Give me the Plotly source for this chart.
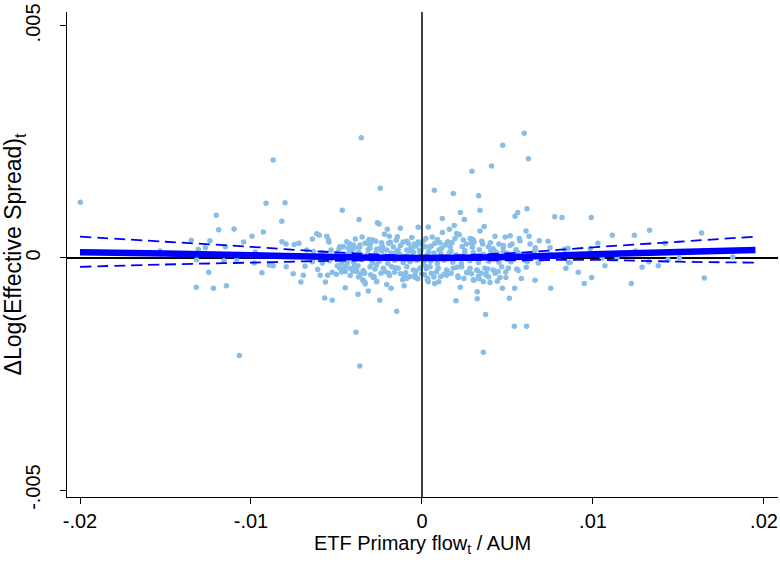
import plotly.graph_objects as go

# ---- scatter data: ETF primary flow / AUM (x) vs ΔLog(Effective Spread) (y)
flow = [
    -19.98e-3, -9.12e-3, -12.03e-3, -11.89e-3, -10.99e-3, -9.28e-3, -9.94e-3, -10.43e-3, -13.49e-3, -12.40e-3,
    -13.08e-3, -12.67e-3, -11.50e-3, -15.32e-3, -9.75e-3, -13.18e-3, -11.58e-3, -10.84e-3, -9.81e-3, -12.47e-3,
    -9.36e-3, -8.93e-3, -13.2e-3, -12.2e-3, -11.44e-3, -10.68e-3,
    -3.55e-3, -8.70e-3, -8.01e-3, -4.66e-3, -8.20e-3, -3.68e-3, -8.19e-3, -7.95e-3, -7.47e-3, -7.19e-3,
    -6.41e-3, -6.16e-3, -6.00e-3, -5.57e-3, -5.48e-3, -5.44e-3, -6.74e-3, -6.36e-3, -5.83e-3, -5.32e-3,
    -4.80e-3, -8.79e-3, -8.70e-3, -7.94e-3, -7.53e-3, -6.94e-3, -7.08e-3, -6.84e-3, -6.10e-3, -5.95e-3,
    -5.52e-3, -5.65e-3, -6.41e-3, -5.83e-3, -5.25e-3, -5.01e-3, -4.49e-3, -4.49e-3, -5.69e-3, -5.25e-3,
    -3.74e-3, -3.86e-3, -3.64e-3, -4.05e-3, -3.84e-3, -3.43e-3, -3.32e-3, -3.74e-3, -3.14e-3, -4.80e-3,
    -4.95e-3, -4.37e-3, -4.11e-3, -3.92e-3, -3.27e-3, -3.10e-3,
    -2.61e-3, -2.51e-3, -2.03e-3, -1.27e-3, -0.22e-3, -2.44e-3, -1.48e-3, -2.47e-3, -1.81e-3, -1.04e-3,
    -2.06e-3, -2.65e-3,
    5.98e-3, 4.72e-3, 6.22e-3, 4.07e-3, 2.92e-3, 3.31e-3, 3.39e-3, 6.14e-3, 5.60e-3, 5.44e-3,
    7.76e-3, 8.19e-3, 3.64e-3, 3.39e-3, 4.27e-3, 4.87e-3, 5.16e-3, 6.08e-3, 6.26e-3, 5.69e-3,
    5.73e-3, 6.86e-3, 7.37e-3, 5.26e-3, 5.15e-3, 4.75e-3, 6.32e-3, 6.63e-3, 7.49e-3, 8.34e-3,
    8.54e-3, 4.02e-3, 4.37e-3, 8.42e-3, 8.58e-3, 9.14e-3, 7.53e-3, 6.61e-3, 5.81e-3, 5.42e-3,
    5.11e-3, 4.70e-3, 4.91e-3, 5.54e-3, 5.63e-3, 3.98e-3, 3.23e-3, 3.23e-3, 3.04e-3, 3.35e-3,
    3.74e-3, 3.72e-3, 5.40e-3, 6.12e-3, 3.59e-3, 6.16e-3, 6.80e-3, 2.92e-3, 3.04e-3,
    0.72e-3, 1.83e-3, 9.90e-3, 2.24e-3, 2.47e-3, 1.19e-3, 0.37e-3, 1.60e-3, 1.89e-3, 11.13e-3,
    12.42e-3, 13.31e-3, 14.21e-3, 16.35e-3, 10.29e-3, 9.84e-3, 9.49e-3, 9.92e-3, 10.70e-3, 12.24e-3,
    12.87e-3, 13.82e-3, 13.27e-3, 14.39e-3, 15.05e-3, 16.51e-3, 18.17e-3, 11.4e-3, 12.5e-3, 1.99e-3,
    2.24e-3, 0.74e-3, 0.98e-3, 0.33e-3, 0.37e-3, 10.54e-3, 8.65e-3,
    -2.20e-3, -1.91e-3, -1.44e-3, -2.88e-3, -3.00e-3, -3.33e-3, -3.63e-3, -2.36e-3, -2.30e-3, -1.68e-3,
    -1.11e-3, -0.89e-3, -0.80e-3, -0.22e-3, -0.35e-3, 0.18e-3, -4.02e-3, -4.31e-3, -4.60e-3, -3.04e-3,
    -2.65e-3, -2.06e-3, -1.39e-3, -0.89e-3, -0.60e-3, -0.06e-3, -4.70e-3, -4.50e-3, -4.21e-3, -3.82e-3,
    -3.43e-3, -3.04e-3, -2.65e-3, -2.26e-3, -1.77e-3, -1.39e-3, -0.89e-3, -0.51e-3, -0.12e-3, 0.27e-3,
    -3.47e-3, -3.33e-3, -2.85e-3, -2.65e-3, -1.13e-3, -0.89e-3, 0.31e-3, -0.41e-3, -0.02e-3,
    1.19e-3, 2.03e-3, 2.18e-3, 2.42e-3, 1.93e-3, 0.23e-3, 2.81e-3, 3.00e-3, 2.90e-3, 0.76e-3,
    1.05e-3, 1.35e-3, 0.47e-3, 1.64e-3, 3.88e-3, 4.37e-3, 4.75e-3, 4.99e-3,
    0.08e-3, 0.47e-3, 0.95e-3, 1.44e-3, 1.83e-3, 2.32e-3, 2.81e-3, 3.20e-3, 3.68e-3, 4.17e-3,
    4.66e-3, 5.05e-3, 2.12e-3, 3.00e-3, 3.29e-3, 3.59e-3, 4.27e-3, 4.56e-3, 2.61e-3, 1.44e-3,
    -5.9e-3, -5.4e-3, -5.0e-3, -4.6e-3, -4.3e-3, -4.0e-3, -3.7e-3, -3.5e-3, -3.2e-3, -2.9e-3,
    -2.7e-3, -2.5e-3, -2.2e-3, -2.0e-3, -1.8e-3, -1.6e-3, -1.3e-3, -1.1e-3, -0.9e-3, -0.7e-3,
    -0.5e-3, -0.3e-3, -0.1e-3, 0.1e-3, 0.3e-3, 0.5e-3, 0.7e-3, 0.9e-3, 1.1e-3, 1.3e-3,
    1.6e-3, 1.8e-3, 2.0e-3, 2.3e-3, 2.5e-3, 2.8e-3, 3.0e-3, 3.3e-3, 3.6e-3, 3.9e-3,
    4.2e-3, 4.5e-3, 4.8e-3, 5.2e-3, 5.6e-3, 6.0e-3, 6.5e-3, 7.0e-3, 7.5e-3, 8.0e-3,
    -4.4e-3, -3.9e-3, -3.5e-3, -2.7e-3, -1.95e-3, -1.5e-3, -0.6e-3, -0.45e-3, 0.05e-3, 0.6e-3,
    0.9e-3, 1.5e-3, 2.6e-3, 3.5e-3, 4.0e-3, 4.5e-3,
    -4.2e-3, -3.7e-3, -3.0e-3, -2.4e-3, -1.9e-3, -1.6e-3, -1.25e-3, -0.7e-3, -0.25e-3, 0.55e-3,
    1.1e-3, 1.7e-3, 2.45e-3, 3.45e-3, 3.9e-3, 4.4e-3,
    -4.85e-3, -4.55e-3, -4.25e-3, -3.95e-3, -3.65e-3, -3.35e-3, -3.05e-3, -2.75e-3, -2.45e-3, -2.15e-3,
    -1.85e-3, -1.55e-3, -1.25e-3, -0.95e-3, -0.65e-3, -0.35e-3, -0.05e-3, 0.25e-3, 0.55e-3, 0.85e-3,
    1.15e-3, 1.45e-3, 1.75e-3, 2.05e-3, 2.35e-3, 2.65e-3, 2.95e-3, 3.25e-3, 3.55e-3, 3.85e-3,
    4.15e-3, 4.45e-3, 4.75e-3,
    -4.7e-3, -4.1e-3, -3.6e-3, -3.15e-3, -2.8e-3, -2.35e-3, -1.95e-3, -1.5e-3, -1.05e-3, -0.75e-3,
    -0.4e-3, -0.15e-3, 0.15e-3, 0.4e-3, 0.7e-3, 1.0e-3, 1.3e-3, 1.7e-3, 2.1e-3, 2.5e-3,
    2.9e-3, 3.35e-3, 3.75e-3, 4.25e-3, 4.9e-3, 5.5e-3, 6.1e-3, 6.6e-3,
]
dspread = [
    1.20e-3, 1.18e-3, 0.92e-3, 0.61e-3, 0.625e-3, 0.56e-3, 0.47e-3, 0.345e-3, 0.38e-3, 0.37e-3,
    0.19e-3, 0.22e-3, 0.24e-3, 0.15e-3, 0.13e-3, -0.04e-3, -0.06e-3, -0.03e-3, -0.11e-3, -0.31e-3,
    -0.32e-3, -0.15e-3, -0.63e-3, -0.65e-3, -0.60e-3, -2.10e-3,
    2.59e-3, 2.11e-3, 1.19e-3, 1.03e-3, 0.79e-3, 0.83e-3, 0.35e-3, 0.30e-3, 0.29e-3, 0.32e-3,
    0.41e-3, 0.52e-3, 0.49e-3, 0.47e-3, 0.40e-3, 0.345e-3, 0.17e-3, 0.14e-3, 0.12e-3, 0.17e-3,
    0.24e-3, -0.15e-3, -0.17e-3, -0.19e-3, -0.34e-3, -0.37e-3, -0.52e-3, -0.18e-3, -0.25e-3, -0.37e-3,
    -0.37e-3, -0.52e-3, -0.08e-3, -0.11e-3, -0.31e-3, -0.35e-3, -0.29e-3, -0.64e-3, -0.86e-3, -0.91e-3,
    -0.78e-3, -1.60e-3, -2.33e-3, -0.28e-3, -0.29e-3, -0.49e-3, -0.56e-3, -0.17e-3, -0.71e-3, -0.22e-3,
    -0.17e-3, -0.11e-3, 0.24e-3, 0.22e-3, 0.32e-3, 0.40e-3,
    0.76e-3, 0.73e-3, 0.62e-3, 0.64e-3, 0.66e-3, 1.50e-3, -1.15e-3, -0.91e-3, -0.65e-3, -0.60e-3,
    -0.57e-3, -0.50e-3,
    2.69e-3, 2.43e-3, 2.14e-3, 1.98e-3, 1.87e-3, 1.34e-3, 1.03e-3, 1.06e-3, 0.98e-3, 0.90e-3,
    0.89e-3, 0.87e-3, 0.68e-3, 0.58e-3, 0.47e-3, 0.45e-3, 0.48e-3, 0.58e-3, 0.47e-3, 0.42e-3,
    0.37e-3, 0.37e-3, 0.36e-3, 0.30e-3, 0.27e-3, 0.22e-3, 0.30e-3, 0.22e-3, 0.22e-3, 0.19e-3,
    0.21e-3, 0.16e-3, 0.11e-3, -0.22e-3, -0.10e-3, -0.31e-3, -0.65e-3, -0.48e-3, -0.44e-3, -0.65e-3,
    -0.87e-3, -0.65e-3, -0.42e-3, -0.24e-3, -0.27e-3, -0.53e-3, -0.73e-3, -0.88e-3, -0.48e-3, -0.45e-3,
    -0.34e-3, -1.22e-3, -1.47e-3, -1.47e-3, -2.03e-3, -0.08e-3, -0.11e-3, 0.41e-3, 0.34e-3,
    1.46e-3, 1.39e-3, 0.87e-3, 0.98e-3, 0.83e-3, 0.85e-3, 0.67e-3, 0.62e-3, 0.70e-3, 0.49e-3,
    0.49e-3, 0.60e-3, 0.32e-3, 0.54e-3, 0.32e-3, 0.20e-3, -0.55e-3, -0.42e-3, -0.17e-3, -0.55e-3,
    -0.20e-3, -0.17e-3, -0.08e-3, -0.04e-3, 0.0, -0.43e-3, 0.02e-3, 0.0, 0.15e-3, -0.92e-3,
    -0.63e-3, -0.55e-3, -0.51e-3, -0.44e-3, -0.51e-3, 0.0, -0.10e-3,
    0.51e-3, 0.47e-3, 0.46e-3, 0.39e-3, 0.33e-3, 0.32e-3, 0.28e-3, 0.33e-3, 0.24e-3, 0.24e-3,
    0.345e-3, 0.36e-3, 0.32e-3, 0.345e-3, 0.26e-3, 0.24e-3, 0.28e-3, 0.21e-3, 0.24e-3, 0.21e-3,
    0.19e-3, 0.17e-3, 0.17e-3, 0.17e-3, 0.19e-3, 0.17e-3, -0.11e-3, -0.19e-3, -0.22e-3, -0.27e-3,
    -0.27e-3, -0.19e-3, -0.15e-3, -0.22e-3, -0.19e-3, -0.22e-3, -0.19e-3, -0.26e-3, -0.22e-3, -0.19e-3,
    -0.47e-3, -0.53e-3, -0.42e-3, -0.51e-3, -0.47e-3, -0.44e-3, -0.47e-3, -0.37e-3, -0.34e-3,
    0.55e-3, 0.53e-3, 0.50e-3, 0.39e-3, 0.42e-3, 0.42e-3, 0.42e-3, 0.39e-3, 0.32e-3, 0.32e-3,
    0.33e-3, 0.28e-3, 0.24e-3, 0.24e-3, 0.24e-3, 0.10e-3, 0.14e-3, 0.10e-3,
    -0.15e-3, -0.19e-3, -0.22e-3, -0.26e-3, -0.22e-3, -0.19e-3, -0.22e-3, -0.26e-3, -0.22e-3, -0.26e-3,
    -0.19e-3, -0.22e-3, -0.42e-3, -0.47e-3, -0.40e-3, -0.51e-3, -0.33e-3, -0.42e-3, -0.32e-3, -0.37e-3,
    0.08e-3, -0.06e-3, 0.11e-3, -0.05e-3, 0.09e-3, -0.09e-3, 0.12e-3, -0.04e-3, 0.07e-3, -0.11e-3,
    0.10e-3, -0.07e-3, 0.05e-3, -0.12e-3, 0.11e-3, -0.05e-3, 0.08e-3, -0.10e-3, 0.04e-3, -0.08e-3,
    0.12e-3, -0.05e-3, 0.08e-3, -0.10e-3, 0.06e-3, -0.07e-3, 0.11e-3, -0.12e-3, 0.09e-3, -0.05e-3,
    0.12e-3, -0.09e-3, 0.07e-3, -0.12e-3, 0.10e-3, -0.06e-3, 0.12e-3, -0.10e-3, 0.08e-3, -0.07e-3,
    0.13e-3, -0.09e-3, 0.05e-3, -0.08e-3, 0.12e-3, -0.05e-3, 0.10e-3, -0.03e-3, 0.07e-3, 0.02e-3,
    0.35e-3, 0.41e-3, 0.45e-3, 0.36e-3, 0.32e-3, 0.38e-3, 0.44e-3, 0.30e-3, 0.36e-3, 0.45e-3,
    0.40e-3, 0.35e-3, 0.30e-3, 0.36e-3, 0.33e-3, 0.30e-3,
    -0.38e-3, -0.41e-3, -0.36e-3, -0.33e-3, -0.38e-3, -0.31e-3, -0.34e-3, -0.40e-3, -0.45e-3, -0.33e-3,
    -0.40e-3, -0.33e-3, -0.44e-3, -0.33e-3, -0.41e-3, -0.50e-3,
    0.20e-3, -0.27e-3, 0.31e-3, -0.18e-3, 0.23e-3, -0.33e-3, 0.28e-3, -0.24e-3, 0.21e-3, -0.29e-3,
    0.34e-3, -0.21e-3, 0.27e-3, -0.32e-3, 0.22e-3, -0.28e-3, 0.30e-3, -0.23e-3, 0.26e-3, -0.30e-3,
    0.21e-3, -0.27e-3, 0.33e-3, -0.20e-3, 0.25e-3, -0.31e-3, 0.23e-3, -0.27e-3, 0.30e-3, -0.24e-3,
    0.20e-3, -0.29e-3, 0.27e-3,
    -0.30e-3, 0.16e-3, -0.35e-3, 0.18e-3, -0.40e-3, 0.15e-3, -0.33e-3, 0.14e-3, -0.38e-3, 0.15e-3,
    -0.42e-3, 0.16e-3, -0.36e-3, 0.14e-3, -0.41e-3, 0.18e-3, -0.35e-3, 0.15e-3, -0.39e-3, 0.16e-3,
    -0.34e-3, 0.18e-3, -0.37e-3, 0.15e-3, -0.30e-3, 0.18e-3, -0.20e-3, 0.16e-3,
]

# ---- fitted curve with 95% confidence band
fit_x = [-0.0200, -0.0150, -0.0100, -0.0050, 0.0, 0.0050, 0.0100, 0.0150, 0.0195]
fit_y = [0.000125, 0.000095, 0.00006, 0.00002, 0.0, 0.00002, 0.00008, 0.00013, 0.00017]
ci_hi = [0.00046, 0.00035, 0.00024, 0.00012, 0.00005, 0.00010, 0.00023, 0.00035, 0.00046]
ci_lo = [-0.00019, -0.00014, -0.00010, -0.00006, -0.00004, -0.00005, -0.00004, -0.00008, -0.00010]

x_ticks = [-0.02, -0.01, 0, 0.01, 0.02]
x_labels = ["-.02", "-.01", "0", ".01", ".02"]
y_ticks = [-0.005, 0, 0.005]
y_labels = ["-.005", "0", ".005"]

FONT = "Liberation Sans, Arial, Helvetica, sans-serif"

fig = go.Figure()
fig.add_trace(go.Scatter(
    x=flow, y=dspread, mode="markers",
    marker=dict(color="#86bee8", size=5.5, line=dict(width=0)),
    showlegend=False, hoverinfo="skip"))
for band in (ci_hi, ci_lo):
    fig.add_trace(go.Scatter(
        x=fit_x, y=band, mode="lines", line_shape="spline",
        line=dict(color="#0000ff", width=1.8, dash="11px,6px"),
        showlegend=False, hoverinfo="skip"))
fig.add_trace(go.Scatter(
    x=fit_x, y=fit_y, mode="lines", line_shape="spline",
    line=dict(color="#0000ff", width=6.5),
    showlegend=False, hoverinfo="skip"))

fig.add_hline(y=0, line=dict(color="black", width=2), layer="below")
fig.add_vline(x=0, line=dict(color="black", width=1.5), layer="above")

fig.update_layout(
    width=780, height=562,
    margin=dict(l=67, r=2, t=12, b=65),
    paper_bgcolor="white", plot_bgcolor="white",
    font=dict(family=FONT, size=20, color="black"),
    xaxis=dict(
        range=[-0.02076, 0.02082], tickvals=x_ticks, ticktext=x_labels,
        showgrid=False, zeroline=False, showline=True, linecolor="black", linewidth=1.3,
        ticks="outside", ticklen=6, tickcolor="black", tickwidth=1.3,
        tickfont=dict(size=20), automargin=False,
        title=dict(text="ETF Primary flow<sub>t</sub> / AUM", font=dict(size=20), standoff=4),
    ),
    yaxis=dict(
        range=[-0.00515, 0.0053], tickvals=y_ticks, ticktext=y_labels,
        showgrid=False, zeroline=False, showline=True, linecolor="black", linewidth=1.3,
        ticks="outside", ticklen=6, tickcolor="black", tickwidth=1.3,
        tickangle=-90, tickfont=dict(size=20), automargin=False, ticklabelstandoff=12,
        title=dict(text="ΔLog(Effective Spread)<sub>t</sub>", font=dict(size=23), standoff=1),
    ),
)

fig.write_html(
    "out.html",
    config={"displayModeBar": False},
    post_script="document.body.style.margin='0';document.body.style.overflow='hidden';",
)
